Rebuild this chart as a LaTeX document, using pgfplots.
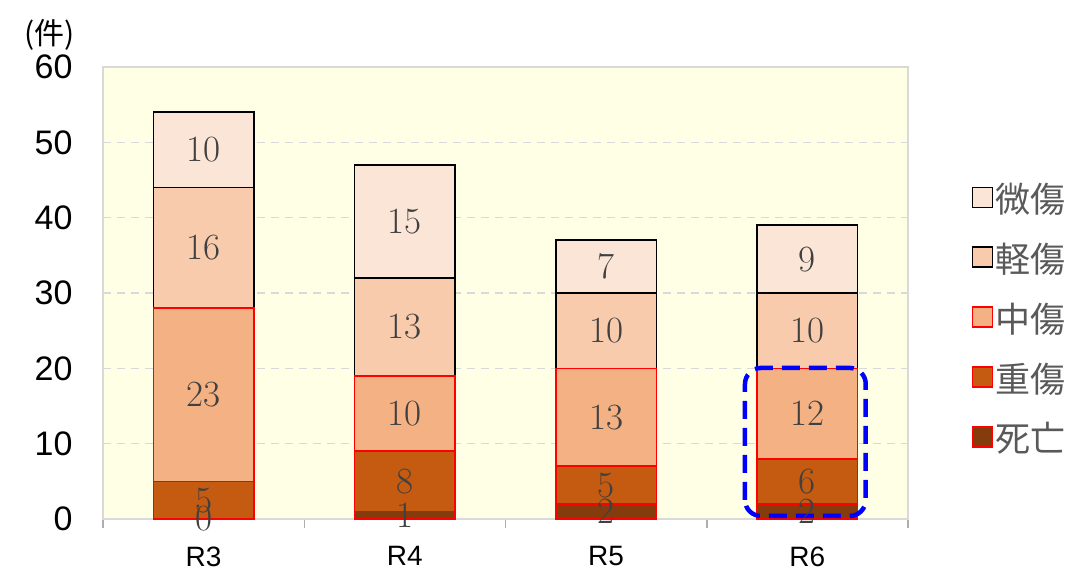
\documentclass[border=0pt]{standalone}
\usepackage{pgfplots}
\pgfplotsset{compat=1.18}
\usepackage{fontspec}
\newfontfamily\arial{Liberation Sans}
\newfontfamily\cjk{Noto Sans CJK JP}
\definecolor{bgyel}{HTML}{FFFFE5}
\definecolor{c1}{HTML}{843C0C}
\definecolor{c2}{HTML}{C55A11}
\definecolor{c3}{HTML}{F4B183}
\definecolor{c4}{HTML}{F8CBAD}
\definecolor{c5}{HTML}{FBE5D6}
\definecolor{gridc}{HTML}{D9D9D9}
\definecolor{lblc}{HTML}{404040}
\definecolor{legc}{HTML}{595959}
\pgfplotsset{
  seg/.style 2 args={fill=#1, draw=#2, line width=1.6pt,
    legend image code/.code={\draw[fill=#1, draw=#2, line width=1.5pt] (0pt,-9pt) rectangle (20pt,11pt);}},
  base/.style={
    at={(103pt,62pt)}, anchor=south west,
    scale only axis, width=805pt, height=452pt,
    ybar stacked, bar width=0.5,
    xmin=-0.5, xmax=3.5, ymin=0, ymax=60,
    clip=false,
    /pgf/number format/assume math mode=true,
  },
}
\pgfplotstableread{
x  d  s  m  l  b
0  0  5  23 16 10
1  1  8  10 13 15
2  2  5  13 10 7
3  2  6  12 10 9
}\data
\begin{document}
\begin{tikzpicture}
\useasboundingbox (0pt,0pt) rectangle (1090pt,581pt);
\begin{axis}[
  base,
  xtick={0,1,2,3}, xticklabels={R3,R4,R5,R6},
  minor xtick={-0.5,0.5,1.5,2.5,3.5},
  ytick={0,10,...,60},
  xtick pos=left,
  major tick length=0pt, minor tick length=9pt,
  tick align=outside,
  minor tick style={gridc!80!black, line width=1.5pt},
  ytick style={draw=none},
  axis line style={gridc, line width=1.5pt},
  axis background/.style={fill=bgyel},
  ymajorgrids,
  major grid style={gridc, line width=1.5pt, dash pattern=on 8pt off 6pt},
  yticklabel style={font=\arial\fontsize{34}{34}\selectfont, xshift=-27pt},
  xticklabel style={font=\arial\fontsize{28}{28}\selectfont, yshift=-24pt},
  legend style={at={(1.075,0.753)}, anchor=north west, draw=none, fill=none,
    font=\cjk\fontsize{35}{35}\selectfont, text=legc, row sep=25pt,
    /tikz/every even column/.append style={column sep=6pt}},
  legend cell align=left,
  reverse legend,
]
\addplot[seg={c1}{red}] table[x=x,y=d] {\data};
\addlegendentry{死亡}
\addplot[seg={c2}{red}] table[x=x,y=s] {\data};
\addlegendentry{重傷}
\addplot[seg={c3}{red}] table[x=x,y=m] {\data};
\addlegendentry{中傷}
\addplot[seg={c4}{black}] table[x=x,y=l] {\data};
\addlegendentry{軽傷}
\addplot[seg={c5}{black}] table[x=x,y=b] {\data};
\addlegendentry{微傷}
\end{axis}
\begin{axis}[
  base, hide axis,
  stacked ignores zero=false,
  nodes near coords={\pgfmathprintnumber{\rawy}},
  visualization depends on={rawy \as \rawy},
  nodes near coords align={center},
  every node near coord/.append style={anchor=center, font=\rmfamily\fontsize{37}{37}\selectfont, text=lblc},
]
\addplot[draw=none, fill=none] table[x=x,y=d] {\data};
\addplot[draw=none, fill=none] table[x=x,y=s] {\data};
\addplot[draw=none, fill=none] table[x=x,y=m] {\data};
\addplot[draw=none, fill=none] table[x=x,y=l] {\data};
\addplot[draw=none, fill=none] table[x=x,y=b] {\data};
\draw[blue, line width=4.5pt, dash pattern=on 18pt off 9pt, rounded corners=16pt]
  (axis cs:2.69,0.4) rectangle (axis cs:3.29,20.05);
\end{axis}
\node[font=\cjk\fontsize{30}{30}\selectfont, anchor=center] at (50pt,546pt) {(件)};
\end{tikzpicture}
\end{document}
